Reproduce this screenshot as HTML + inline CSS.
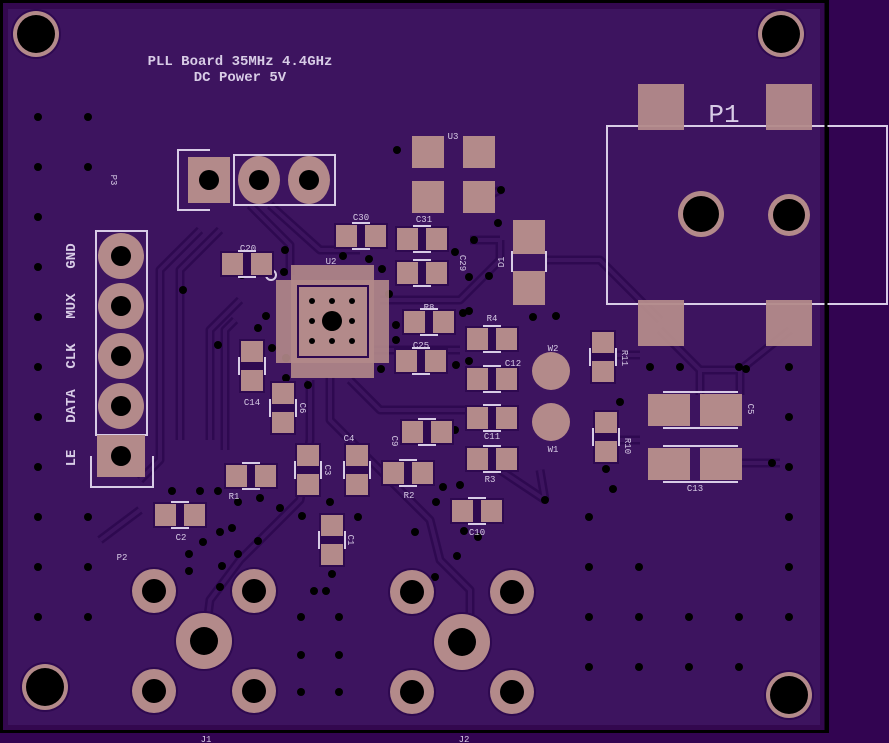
<!DOCTYPE html>
<html><head><meta charset="utf-8"><style>
html,body{margin:0;padding:0;background:#320451;}
svg{display:block}
text{font-family:"Liberation Mono",monospace;fill:#d8cce6}
</style></head><body>
<svg width="889" height="743" viewBox="0 0 889 743" xmlns="http://www.w3.org/2000/svg">
<defs>
<g id="ch"><rect x="-27" y="-13" width="54" height="26" fill="#2e0950"/><rect x="-25" y="-11" width="21" height="22" fill="#b38a8a"/><rect x="4" y="-11" width="21" height="22" fill="#b38a8a"/><line x1="-9" y1="-13" x2="9" y2="-13" stroke="#d8cce6" stroke-width="2"/><line x1="-9" y1="13" x2="9" y2="13" stroke="#d8cce6" stroke-width="2"/><rect x="-3" y="-11" width="6" height="22" fill="#2e0950"/></g>
<g id="cv"><rect x="-13" y="-27" width="26" height="54" fill="#2e0950"/><rect x="-11" y="-25" width="22" height="21" fill="#b38a8a"/><rect x="-11" y="4" width="22" height="21" fill="#b38a8a"/><line x1="-13" y1="-9" x2="-13" y2="9" stroke="#d8cce6" stroke-width="2"/><line x1="13" y1="-9" x2="13" y2="9" stroke="#d8cce6" stroke-width="2"/><rect x="-11" y="-3" width="22" height="6" fill="#2e0950"/></g>
<g id="sm"><circle r="24" fill="#2e0950"/><circle r="22" fill="#b38a8a"/><circle r="12" fill="#000"/></g>
<g id="bg"><circle r="30" fill="#2e0950"/><circle r="28" fill="#b38a8a"/><circle r="14" fill="#000"/></g>
<g id="mh"><circle r="25" fill="#2e0950"/><circle r="23" fill="#b38a8a"/><circle r="19" fill="#000"/></g>
</defs>
<rect x="0" y="0" width="889" height="743" fill="#320451"/>
<rect x="0" y="0" width="829" height="733" fill="#000"/>
<rect x="3" y="3" width="823" height="727" fill="#33084f"/>
<rect x="8" y="9" width="812" height="716" fill="#3d145f"/>
<g fill="none" stroke-linejoin="round">
<g stroke="#2e0950" stroke-width="9">
<path d="M250 205 L290 245 L290 275 M270 205 L320 250 L360 250 M200 230 L160 270 L160 460 L140 480 M220 230 L180 270 L180 440 M240 300 L210 330 L210 440 M235 320 L225 330 L225 450 M330 377 L330 420 L370 460 L430 520 L440 560 L470 590 L470 640 M310 380 L310 440 L300 500 L240 560 L210 600 L205 640 M350 380 L380 410 L440 410 L500 410 M370 350 L460 350 M380 300 L460 300 L500 260 L500 240 M545 260 L600 260 L660 320 M660 330 L700 370 L700 395 M790 330 L740 370 L740 395 M700 370 L740 370 M540 470 L545 500 M500 470 L545 500 M500 240 L470 240 M140 510 L100 540 M600 355 L640 355 M600 440 L640 440 M740 463 L780 463 M480 200 L500 190"/>
</g>
<g stroke="#3d145f" stroke-width="4">
<path d="M250 205 L290 245 L290 275 M270 205 L320 250 L360 250 M200 230 L160 270 L160 460 L140 480 M220 230 L180 270 L180 440 M240 300 L210 330 L210 440 M235 320 L225 330 L225 450 M330 377 L330 420 L370 460 L430 520 L440 560 L470 590 L470 640 M310 380 L310 440 L300 500 L240 560 L210 600 L205 640 M350 380 L380 410 L440 410 L500 410 M370 350 L460 350 M380 300 L460 300 L500 260 L500 240 M545 260 L600 260 L660 320 M660 330 L700 370 L700 395 M790 330 L740 370 L740 395 M700 370 L740 370 M540 470 L545 500 M500 470 L545 500 M500 240 L470 240 M140 510 L100 540 M600 355 L640 355 M600 440 L640 440 M740 463 L780 463 M480 200 L500 190"/>
</g>
</g>
<g fill="#000">
<circle cx="38" cy="117" r="4"/><circle cx="88" cy="117" r="4"/>
<circle cx="38" cy="167" r="4"/><circle cx="88" cy="167" r="4"/>
<circle cx="38" cy="217" r="4"/><circle cx="38" cy="267" r="4"/><circle cx="38" cy="317" r="4"/><circle cx="38" cy="367" r="4"/><circle cx="38" cy="417" r="4"/><circle cx="38" cy="467" r="4"/><circle cx="38" cy="517" r="4"/><circle cx="88" cy="517" r="4"/><circle cx="38" cy="567" r="4"/><circle cx="88" cy="567" r="4"/><circle cx="38" cy="617" r="4"/><circle cx="88" cy="617" r="4"/>
<circle cx="589" cy="517" r="4"/><circle cx="589" cy="567" r="4"/><circle cx="639" cy="567" r="4"/><circle cx="589" cy="617" r="4"/><circle cx="639" cy="617" r="4"/><circle cx="689" cy="617" r="4"/><circle cx="739" cy="617" r="4"/><circle cx="789" cy="617" r="4"/><circle cx="589" cy="667" r="4"/><circle cx="639" cy="667" r="4"/><circle cx="689" cy="667" r="4"/><circle cx="739" cy="667" r="4"/><circle cx="789" cy="567" r="4"/><circle cx="789" cy="517" r="4"/><circle cx="789" cy="467" r="4"/><circle cx="789" cy="417" r="4"/><circle cx="789" cy="367" r="4"/><circle cx="739" cy="367" r="4"/><circle cx="680" cy="367" r="4"/><circle cx="650" cy="367" r="4"/><circle cx="620" cy="402" r="4"/><circle cx="613" cy="489" r="4"/><circle cx="606" cy="469" r="4"/><circle cx="772" cy="463" r="4"/><circle cx="746" cy="369" r="4"/>
<circle cx="183" cy="290" r="4"/><circle cx="218" cy="345" r="4"/><circle cx="285" cy="250" r="4"/><circle cx="284" cy="272" r="4"/><circle cx="266" cy="316" r="4"/><circle cx="258" cy="328" r="4"/><circle cx="272" cy="348" r="4"/><circle cx="286" cy="358" r="4"/><circle cx="286" cy="378" r="4"/><circle cx="308" cy="385" r="4"/><circle cx="242" cy="275" r="4"/>
<circle cx="343" cy="256" r="4"/><circle cx="369" cy="259" r="4"/><circle cx="382" cy="269" r="4"/><circle cx="389" cy="294" r="4"/><circle cx="396" cy="325" r="4"/><circle cx="396" cy="340" r="4"/><circle cx="381" cy="369" r="4"/><circle cx="455" cy="252" r="4"/><circle cx="397" cy="150" r="4"/><circle cx="501" cy="190" r="4"/><circle cx="498" cy="223" r="4"/><circle cx="474" cy="240" r="4"/><circle cx="469" cy="277" r="4"/><circle cx="469" cy="311" r="4"/><circle cx="489" cy="276" r="4"/><circle cx="469" cy="361" r="4"/><circle cx="463" cy="313" r="4"/><circle cx="533" cy="317" r="4"/><circle cx="556" cy="316" r="4"/><circle cx="456" cy="365" r="4"/><circle cx="455" cy="430" r="4"/><circle cx="443" cy="487" r="4"/><circle cx="460" cy="485" r="4"/><circle cx="436" cy="502" r="4"/><circle cx="464" cy="531" r="4"/><circle cx="415" cy="532" r="4"/><circle cx="435" cy="577" r="4"/><circle cx="478" cy="537" r="4"/><circle cx="545" cy="500" r="4"/><circle cx="486" cy="519" r="4"/><circle cx="457" cy="556" r="4"/>
<circle cx="218" cy="491" r="4"/><circle cx="200" cy="491" r="4"/><circle cx="238" cy="502" r="4"/><circle cx="260" cy="498" r="4"/><circle cx="172" cy="491" r="4"/><circle cx="200" cy="513" r="4"/><circle cx="185" cy="525" r="4"/><circle cx="220" cy="532" r="4"/><circle cx="203" cy="542" r="4"/><circle cx="232" cy="528" r="4"/><circle cx="258" cy="541" r="4"/><circle cx="280" cy="508" r="4"/><circle cx="302" cy="516" r="4"/><circle cx="330" cy="502" r="4"/><circle cx="358" cy="517" r="4"/><circle cx="238" cy="554" r="4"/><circle cx="222" cy="566" r="4"/><circle cx="189" cy="571" r="4"/><circle cx="220" cy="587" r="4"/><circle cx="189" cy="554" r="4"/><circle cx="332" cy="574" r="4"/><circle cx="314" cy="591" r="4"/><circle cx="326" cy="591" r="4"/><circle cx="301" cy="617" r="4"/><circle cx="339" cy="617" r="4"/><circle cx="301" cy="655" r="4"/><circle cx="339" cy="655" r="4"/><circle cx="301" cy="692" r="4"/><circle cx="339" cy="692" r="4"/>
</g>
<use href="#mh" x="36" y="34"/><use href="#mh" x="781" y="34"/><use href="#mh" x="45" y="687"/><use href="#mh" x="789" y="695"/>
<text x="240" y="65" font-size="14" font-weight="bold" text-anchor="middle">PLL Board 35MHz 4.4GHz</text>
<text x="240" y="81" font-size="14" font-weight="bold" text-anchor="middle">DC Power 5V</text>
<text x="0" y="0" font-size="9" transform="translate(111,180) rotate(90)" text-anchor="middle">P3</text>
<rect x="96" y="231" width="51" height="204" fill="none" stroke="#d8cce6" stroke-width="2"/>
<g fill="#b38a8a"><circle cx="121" cy="256" r="23"/><circle cx="121" cy="306" r="23"/><circle cx="121" cy="356" r="23"/><circle cx="121" cy="406" r="23"/><rect x="97" y="435" width="48" height="42"/></g>
<g fill="#000"><circle cx="121" cy="256" r="10"/><circle cx="121" cy="306" r="10"/><circle cx="121" cy="356" r="10"/><circle cx="121" cy="406" r="10"/><circle cx="121" cy="456" r="10"/></g>
<path d="M91 456 V487 H153 V456" fill="none" stroke="#d8cce6" stroke-width="2"/>
<g font-size="14" font-weight="bold" text-anchor="middle">
<text transform="translate(75,256) rotate(-90)">GND</text>
<text transform="translate(75,306) rotate(-90)">MUX</text>
<text transform="translate(75,356) rotate(-90)">CLK</text>
<text transform="translate(75,406) rotate(-90)">DATA</text>
<text transform="translate(75,458) rotate(-90)">LE</text>
</g>
<path d="M210 150 H178 V210 H210" fill="none" stroke="#d8cce6" stroke-width="2"/>
<rect x="234" y="155" width="101" height="50" fill="none" stroke="#d8cce6" stroke-width="2"/>
<rect x="188" y="157" width="42" height="46" fill="#b38a8a"/>
<ellipse cx="259" cy="180" rx="21" ry="24" fill="#b38a8a"/><ellipse cx="309" cy="180" rx="21" ry="24" fill="#b38a8a"/>
<g fill="#000"><circle cx="209" cy="180" r="10"/><circle cx="259" cy="180" r="10"/><circle cx="309" cy="180" r="10"/></g>
<text x="453" y="139" font-size="9" text-anchor="middle">U3</text>
<g fill="#b38a8a"><rect x="412" y="136" width="32" height="32"/><rect x="463" y="136" width="32" height="32"/><rect x="412" y="181" width="32" height="32"/><rect x="463" y="181" width="32" height="32"/></g>
<text x="331" y="264" font-size="9" text-anchor="middle">U2</text>
<rect x="276" y="280" width="113" height="83" fill="#b38a8a" opacity="0.9"/>
<rect x="291" y="265" width="83" height="113" fill="#b38a8a" opacity="0.9"/>
<rect x="297" y="285" width="72" height="73" fill="#2e0950"/>
<rect x="299" y="287" width="68" height="69" fill="#b38a8a"/>
<g fill="#000"><circle cx="332" cy="321" r="10"/><circle cx="312" cy="301" r="3"/><circle cx="332" cy="301" r="3"/><circle cx="352" cy="301" r="3"/><circle cx="312" cy="321" r="3"/><circle cx="352" cy="321" r="3"/><circle cx="312" cy="341" r="3"/><circle cx="332" cy="341" r="3"/><circle cx="352" cy="341" r="3"/></g>
<circle cx="271" cy="275" r="5" fill="none" stroke="#d8cce6" stroke-width="2"/>
<use href="#ch" x="247" y="264"/><use href="#ch" x="361" y="236"/><use href="#ch" x="422" y="239"/><use href="#ch" x="422" y="273"/><use href="#ch" x="429" y="322"/><use href="#ch" x="492" y="339"/><use href="#ch" x="421" y="361"/><use href="#ch" x="492" y="379"/><use href="#ch" x="492" y="418"/><use href="#ch" x="427" y="432"/><use href="#ch" x="492" y="459"/><use href="#ch" x="408" y="473"/><use href="#ch" x="251" y="476"/><use href="#ch" x="180" y="515"/><use href="#ch" x="477" y="511"/>
<use href="#cv" x="252" y="366"/><use href="#cv" x="283" y="408"/><use href="#cv" x="308" y="470"/><use href="#cv" x="357" y="470"/><use href="#cv" x="332" y="540"/><use href="#cv" x="603" y="357"/><use href="#cv" x="606" y="437"/>
<g font-size="9" text-anchor="middle">
<text x="248" y="251">C20</text><text x="361" y="220">C30</text><text x="424" y="222">C31</text><text x="429" y="310">R8</text><text x="492" y="321">R4</text><text x="421" y="348">C25</text><text x="513" y="366">C12</text><text x="492" y="439">C11</text><text x="490" y="482">R3</text><text x="409" y="498">R2</text><text x="234" y="499">R1</text><text x="181" y="540">C2</text><text x="477" y="535">C10</text><text x="252" y="405">C14</text><text x="349" y="441">C4</text><text x="553" y="351">W2</text><text x="553" y="452">W1</text><text x="122" y="560">P2</text><text x="206" y="742">J1</text><text x="464" y="742">J2</text><text x="695" y="491">C13</text>
<text transform="translate(460,263) rotate(90)">C29</text>
<text transform="translate(300,408) rotate(90)">C6</text>
<text transform="translate(325,470) rotate(90)">C3</text>
<text transform="translate(348,540) rotate(90)">C1</text>
<text transform="translate(392,441) rotate(90)">C9</text>
<text transform="translate(622,358) rotate(90)">R11</text>
<text transform="translate(625,446) rotate(90)">R10</text>
<text transform="translate(748,409) rotate(90)">C5</text>
<text transform="translate(504,262) rotate(-90)">D1</text>
</g>
<rect x="513" y="220" width="32" height="34" fill="#b38a8a"/><rect x="513" y="271" width="32" height="34" fill="#b38a8a"/>
<line x1="512" y1="251" x2="512" y2="272" stroke="#d8cce6" stroke-width="2"/><line x1="546" y1="251" x2="546" y2="272" stroke="#d8cce6" stroke-width="2"/>
<circle cx="551" cy="371" r="19" fill="#b38a8a"/><circle cx="551" cy="422" r="19" fill="#b38a8a"/>
<g fill="#b38a8a"><rect x="648" y="394" width="42" height="32"/><rect x="700" y="394" width="42" height="32"/><rect x="648" y="448" width="42" height="32"/><rect x="700" y="448" width="42" height="32"/></g>
<g stroke="#d8cce6" stroke-width="2"><line x1="663" y1="392" x2="738" y2="392"/><line x1="663" y1="428" x2="738" y2="428"/><line x1="663" y1="446" x2="738" y2="446"/><line x1="663" y1="482" x2="738" y2="482"/></g>
<rect x="607" y="126" width="280" height="178" fill="none" stroke="#d8cce6" stroke-width="2"/>
<line x1="826" y1="0" x2="826" y2="733" stroke="#000" stroke-width="3"/>
<g fill="#b38a8a" opacity="0.95"><rect x="638" y="84" width="46" height="46"/><rect x="766" y="84" width="46" height="46"/><rect x="638" y="300" width="46" height="46"/><rect x="766" y="300" width="46" height="46"/></g>
<text x="724" y="122" font-size="26" font-family="Liberation Sans, sans-serif" text-anchor="middle">P1</text>
<circle cx="701" cy="214" r="23" fill="#b38a8a"/><circle cx="701" cy="214" r="18" fill="#000"/>
<circle cx="789" cy="215" r="21" fill="#b38a8a"/><circle cx="789" cy="215" r="16" fill="#000"/>
<use href="#bg" x="204" y="641"/><use href="#sm" x="154" y="591"/><use href="#sm" x="254" y="591"/><use href="#sm" x="154" y="691"/><use href="#sm" x="254" y="691"/>
<use href="#bg" x="462" y="642"/><use href="#sm" x="412" y="592"/><use href="#sm" x="512" y="592"/><use href="#sm" x="412" y="692"/><use href="#sm" x="512" y="692"/>
</svg>
</body></html>
